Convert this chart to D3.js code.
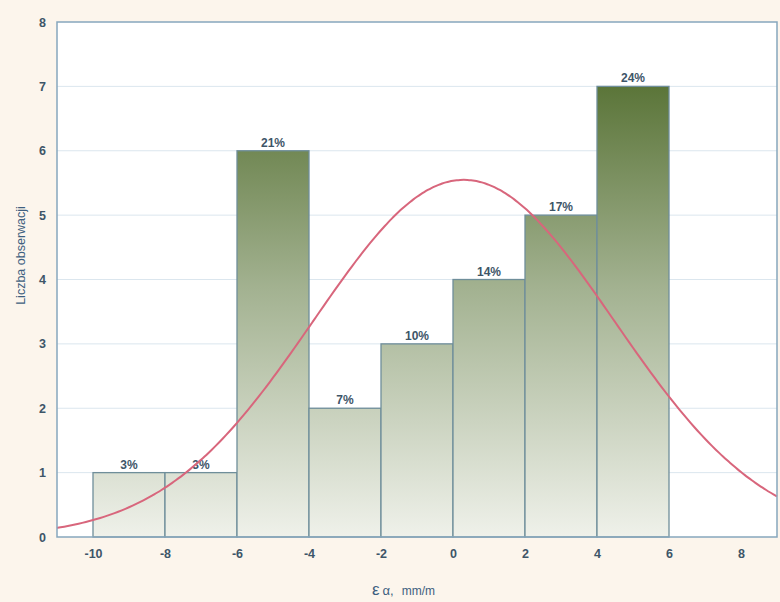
<!DOCTYPE html>
<html>
<head>
<meta charset="utf-8">
<script src="https://cdnjs.cloudflare.com/ajax/libs/d3/7.8.5/d3.min.js"></script>
<style>
  html, body { margin: 0; padding: 0; background: #fcf5ec; }
  svg { display: block; }
</style>
</head>
<body>
<svg id="chart" width="780" height="602"></svg>
<script>
// Histogram bins (lower edge, upper edge) and counts
const binStart = [-10, -8, -6, -4, -2, 0, 2, 4];
const binEnd   = [-8, -6, -4, -2, 0, 2, 4, 6];
const counts   = [1, 1, 6, 2, 3, 4, 5, 7];
const percentLabels = ["3%", "3%", "21%", "7%", "10%", "14%", "17%", "24%"];

// Axis ticks
const xTicks = [-10, -8, -6, -4, -2, 0, 2, 4, 6, 8];
const yTicks = [0, 1, 2, 3, 4, 5, 6, 7, 8];

// Fitted normal distribution parameters
const fitMean = 0.3;
const fitSd = 4.17;
const nObs = 29;
const binWidth = 2;

const svg = d3.select("#chart");
const W = 780, H = 602;
const m = { left: 57, right: 3, top: 22, bottom: 65 };
const FONT = "Liberation Sans, Arial, sans-serif";

const x = d3.scaleLinear().domain([-11, 9]).range([m.left, W - m.right]);
const y = d3.scaleLinear().domain([0, 8]).range([H - m.bottom, m.top]);

// Plot background
svg.append("rect")
  .attr("x", x(-11)).attr("y", y(8))
  .attr("width", x(9) - x(-11)).attr("height", y(0) - y(8))
  .attr("fill", "#ffffff");

// Gradient shared by all bars, running from dark at the top to pale at the base
const defs = svg.append("defs");
const grad = defs.append("linearGradient")
  .attr("id", "barGrad")
  .attr("gradientUnits", "userSpaceOnUse")
  .attr("x1", 0).attr("x2", 0)
  .attr("y1", y(7)).attr("y2", y(0));
grad.append("stop").attr("offset", "0%").attr("stop-color", "#5b7539");
grad.append("stop").attr("offset", "45%").attr("stop-color", "#a3b291");
grad.append("stop").attr("offset", "100%").attr("stop-color", "#eff1ea");

// Faint horizontal grid
svg.append("g").selectAll("line")
  .data(yTicks.filter(d => d > 0 && d < 8))
  .join("line")
  .attr("x1", x(-11)).attr("x2", x(9))
  .attr("y1", d => y(d)).attr("y2", d => y(d))
  .attr("stroke", "#dbe6ee").attr("stroke-width", 1);

// Bars
const bins = counts.map((c, i) => ({ x0: binStart[i], x1: binEnd[i], n: c, label: percentLabels[i] }));
svg.append("g").selectAll("rect")
  .data(bins)
  .join("rect")
  .attr("x", d => x(d.x0))
  .attr("y", d => y(d.n))
  .attr("width", d => x(d.x1) - x(d.x0))
  .attr("height", d => y(0) - y(d.n))
  .attr("fill", "url(#barGrad)")
  .attr("stroke", "#6f8e9a")
  .attr("stroke-width", 1.3);

// Percentage labels above bars
svg.append("g").selectAll("text")
  .data(bins)
  .join("text")
  .attr("x", d => (x(d.x0) + x(d.x1)) / 2)
  .attr("y", d => y(d.n) - 4)
  .attr("text-anchor", "middle")
  .attr("font-family", FONT)
  .attr("font-size", 12)
  .attr("font-weight", "bold")
  .attr("fill", "#3e5568")
  .text(d => d.label);

// Expected normal curve
const pdf = v => nObs * binWidth / (fitSd * Math.sqrt(2 * Math.PI)) *
  Math.exp(-((v - fitMean) ** 2) / (2 * fitSd * fitSd));
const curvePts = d3.range(-11, 9.001, 0.1).map(v => [v, pdf(v)]);
svg.append("path")
  .datum(curvePts)
  .attr("d", d3.line().x(d => x(d[0])).y(d => y(d[1])).curve(d3.curveBasis))
  .attr("fill", "none")
  .attr("stroke", "#d8667c")
  .attr("stroke-width", 2);

// Plot frame
svg.append("rect")
  .attr("x", x(-11)).attr("y", y(8))
  .attr("width", x(9) - x(-11)).attr("height", y(0) - y(8))
  .attr("fill", "none")
  .attr("stroke", "#86a7bd").attr("stroke-width", 1.5);

// Axes (plain hyphen for negative numbers)
const fmt = d => String(d);
const xAxis = svg.append("g")
  .attr("transform", `translate(0,${y(0)})`)
  .call(d3.axisBottom(x).tickValues(xTicks).tickFormat(fmt).tickSize(0).tickPadding(12));
const yAxis = svg.append("g")
  .attr("transform", `translate(${x(-11)},0)`)
  .call(d3.axisLeft(y).tickValues(yTicks).tickFormat(fmt).tickSize(0).tickPadding(11));
[xAxis, yAxis].forEach(g => {
  g.select(".domain").remove();
  g.selectAll("text")
    .attr("font-family", FONT)
    .attr("font-size", 12.5)
    .attr("font-weight", "bold")
    .attr("fill", "#3e5568");
});

// Axis titles
svg.append("text")
  .attr("transform", `translate(25,${(y(0) + y(8)) / 2 - 24}) rotate(-90)`)
  .attr("text-anchor", "middle")
  .attr("font-family", FONT)
  .attr("font-size", 12.5)
  .attr("fill", "#3e5f80")
  .text("Liczba obserwacji");

const xt = svg.append("text")
  .attr("x", 372).attr("y", 595)
  .attr("font-family", FONT)
  .attr("fill", "#3e5f80");
xt.append("tspan").attr("font-size", 17).text("ε");
xt.append("tspan").attr("font-size", 13).attr("dx", 3).text("α,");
xt.append("tspan").attr("font-size", 12).attr("dx", 8).text("mm/m");
</script>
</body>
</html>
